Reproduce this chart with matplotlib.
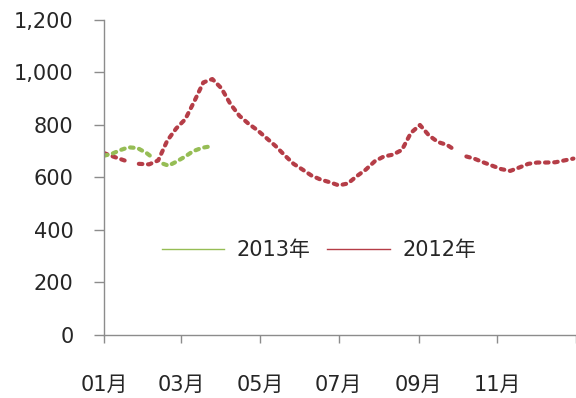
import numpy as np
import pandas as pd
import matplotlib
matplotlib.use('Agg')
import matplotlib.pyplot as plt
from matplotlib.lines import Line2D
from matplotlib.ticker import FuncFormatter

plt.rcParams['font.family'] = ['DejaVu Sans', 'Noto Sans CJK SC']
plt.rcParams['font.size'] = 15

# weekly series, month-day only so both years share one Jan-Dec axis
days_2012 = ['01-01', '01-08', '01-15', '01-21', '01-24', '01-28', '02-05', '02-12',
             '02-19', '02-26', '03-04', '03-11', '03-18', '03-25', '04-01', '04-08',
             '04-15', '04-22', '04-29', '05-06', '05-13', '05-20', '05-27', '06-03',
             '06-10', '06-17', '06-24', '07-01', '07-08', '07-15', '07-22', '07-29',
             '08-05', '08-12', '08-19', '08-26', '09-02', '09-09', '09-16', '09-23',
             '09-29', '10-02', '10-08', '10-14', '10-21', '10-28', '11-04', '11-11',
             '11-18', '11-25', '12-02', '12-09', '12-16', '12-23', '12-30']
vals_2012 = [693, 680, 668, 658, np.nan, 652, 650, 665,
             740, 787, 822, 890, 962, 975, 940, 880,
             835, 805, 780, 750, 720, 685, 652, 630,
             607, 592, 582, 570, 577, 605, 630, 662,
             680, 687, 705, 770, 800, 760, 735, 724,
             705, np.nan, 680, 672, 658, 645, 632, 625,
             638, 652, 657, 657, 658, 665, 672]

days_2013 = ['01-01', '01-07', '01-14', '01-20', '01-27', '02-03', '02-07', '02-10',
             '02-16', '02-20', '02-26', '03-04', '03-10', '03-17', '03-25']
vals_2013 = [683, 690, 705, 715, 712, 693, 678, np.nan,
             652, 645, 660, 680, 700, 713, 720]

month_ticks = ['01-01', '03-01', '05-01', '07-01', '09-01', '11-01']
month_labels = ['01月', '03月', '05月', '07月', '09月', '11月']

c2012 = '#B53D47'
c2013 = '#96BD55'
axis_grey = '#8C8C8C'


def to_dates(md):
    return pd.to_datetime(['2012-' + d for d in md])


fig = plt.figure(figsize=(5.76, 3.98), dpi=100)
ax = fig.add_axes([0.1806, 0.1583, 0.8194, 0.7915])

dash = (0, (0.85, 1.35))
ax.plot(to_dates(days_2012), vals_2012, color=c2012, lw=3.0,
        linestyle=dash, dash_capstyle='round', solid_capstyle='round')
ax.plot(to_dates(days_2013), vals_2013, color=c2013, lw=3.0,
        linestyle=dash, dash_capstyle='round', solid_capstyle='round')

ax.set_xlim(pd.Timestamp('2012-01-01'), pd.Timestamp('2013-01-01'))
ax.set_ylim(0, 1200)

xt = list(to_dates(month_ticks)) + [pd.Timestamp('2013-01-01')]
ax.set_xticks(xt)
ax.set_xticklabels(month_labels + [''])
ax.set_yticks(np.arange(0, 1201, 200))
ax.yaxis.set_major_formatter(FuncFormatter(lambda v, p: '{:,.0f}'.format(v)))

for s in ['top', 'right']:
    ax.spines[s].set_visible(False)
for s in ['left', 'bottom']:
    ax.spines[s].set_color(axis_grey)
    ax.spines[s].set_linewidth(1.0)

ax.tick_params(axis='y', direction='out', length=7, width=1.0, color=axis_grey,
               pad=15, labelcolor='#262626')
ax.tick_params(axis='x', direction='out', length=6, width=1.0, color=axis_grey,
               pad=23, labelcolor='#262626')

handles = [Line2D([], [], color=c2013, lw=1.0),
           Line2D([], [], color=c2012, lw=1.0)]
ax.legend(handles, ['2013年', '2012年'], loc='center', bbox_to_anchor=(0.455, 0.27),
          ncol=2, frameon=False, handlelength=3.0, handletextpad=0.6,
          columnspacing=0.8, labelcolor='#262626')

fig.savefig('out.png', dpi=100)
